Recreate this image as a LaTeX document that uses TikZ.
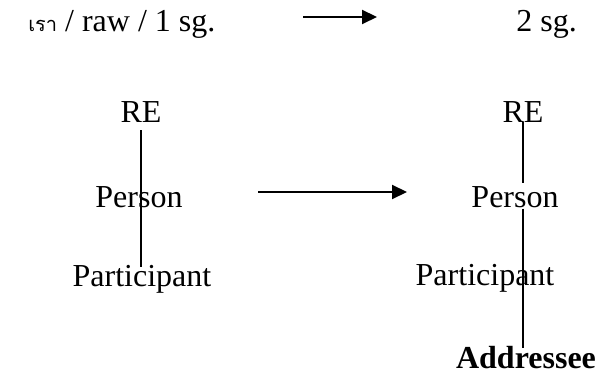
\documentclass[tikz,border=0pt]{standalone}
\usepackage{fontspec}
\setmainfont{Liberation Serif}
\newfontfamily\thaifont[Script=Thai]{Loma}
\usetikzlibrary{arrows.meta}
\begin{document}
\begin{tikzpicture}[x=0.5pt,y=-0.5pt,
        lbl/.style={inner sep=1.5pt, anchor=base, font=\fontsize{16}{19}\selectfont},
        link/.style={line width=0.65pt},
        shiftarrow/.style={-{Triangle[length=7.5pt,width=7pt]}, line width=1pt}]
        \useasboundingbox (0,0) rectangle (597,373);
        % Top line
        \node[lbl, anchor=base west] (pron) at (25,32) {{\thaifont\fontsize{10}{12}\selectfont เรา} / raw / 1 sg.};
        \node[lbl, anchor=base west] (sec) at (513,32) {2 sg.};
        \coordinate (t1) at (303,17);
        \coordinate (t2) at (377,17);
        \draw[shiftarrow] (t1) -- (t2);
        % Left tree
        \node[lbl] (re1) at (141,123) {RE};
        \node[lbl] (pers1) at (139,207) {Person};
        \node[lbl] (part1) at (142,286) {Participant};
        % Right tree
        \node[lbl] (re2) at (523,123) {RE};
        \node[lbl] (pers2) at (515,207) {Person};
        \node[lbl] (part2) at (485,285) {Participant};
        \node[lbl] (addr) at (526,368) {\textbf{Addressee}};
        % Middle arrow
        \coordinate (m1) at (258,192);
        \coordinate (m2) at (407,192);
        \draw[shiftarrow] (m1) -- (m2);
        % Vertical lines
        \draw[link, shorten <=2pt, shorten >=-3pt] (re1.south) -- (re1.south |- part1.north);
        \draw[link, shorten <=-2pt] (re2.south) -- (re2.south |- pers2.north);
        \draw[link, shorten <=-1pt, shorten >=-3pt] (re2.south |- pers2.south) -- (re2.south |- addr.north);
    \end{tikzpicture}
\end{document}
